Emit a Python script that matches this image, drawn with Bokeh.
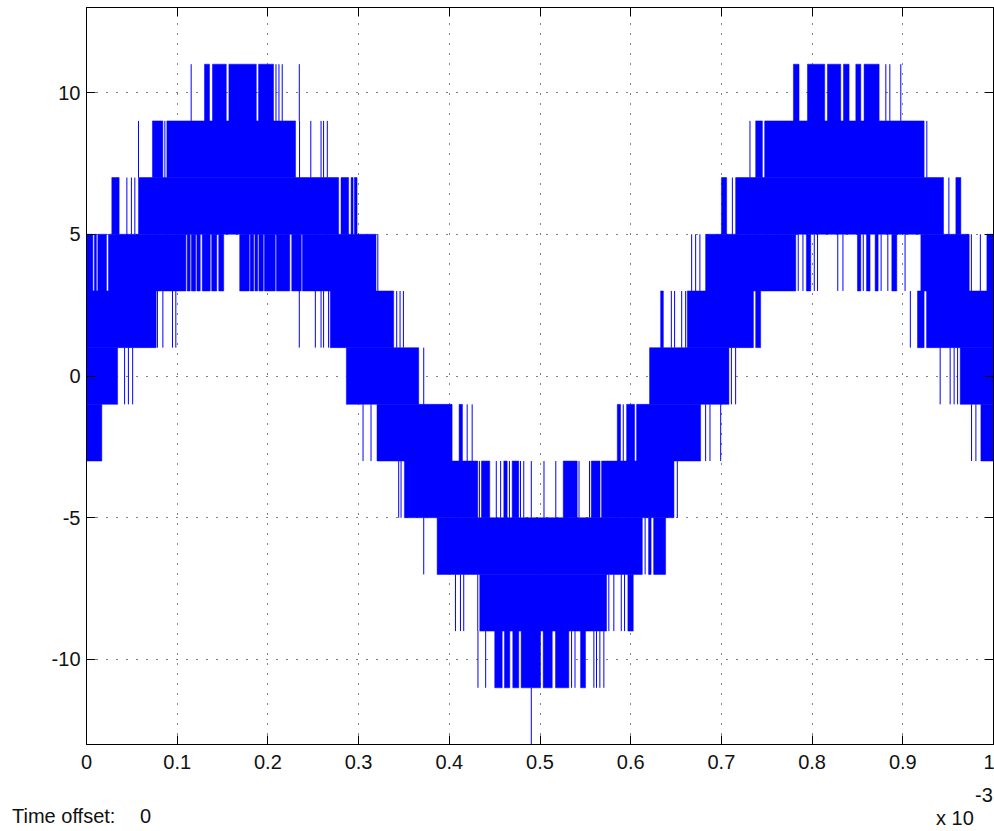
from bokeh.plotting import figure
from bokeh.layouts import column
from bokeh.models import (Range1d, FixedTicker, LinearAxis, Div,
                          CustomJSTickFormatter, ColumnDataSource)
from bokeh.embed import file_html
from bokeh.resources import INLINE

# Multilevel PWM scope trace, time in units of 1e-3 s.
# Each band lies between two adjacent output levels; "runs" are spans where the
# switching is so dense that the band is solid, "lines" are single switching pulses.
x_ticks = [0.0, 0.1, 0.2, 0.3, 0.4, 0.5, 0.6, 0.7, 0.8, 0.9, 1.0]
y_ticks = [-10, -5, 0, 5, 10]

band_9_11_runs = [(0.1301, 0.1356), (0.1389, 0.1541), (0.1570, 0.1872), (0.1897, 0.2062),
                  (0.7794, 0.7856), (0.7949, 0.8139), (0.8169, 0.8316), (0.8346, 0.8408),
                  (0.8482, 0.8537), (0.8573, 0.8739)]
band_9_11_lines = [0.1154, 0.2089, 0.2122, 0.2158, 0.2346, 0.8813, 0.8857, 0.8978]

band_7_9_runs = [(0.0727, 0.0842), (0.0886, 0.2305), (0.7378, 0.7452), (0.7477, 0.9235)]
band_7_9_lines = [0.0573, 0.0864, 0.2349, 0.2473, 0.2586, 0.2614, 0.2655, 0.7315, 0.9265]

band_5_7_runs = [(0.0279, 0.0360), (0.0573, 0.2780), (0.2806, 0.2890), (0.2917, 0.2939),
                 (0.2953, 0.2983), (0.7000, 0.7058), (0.7157, 0.9449), (0.9585, 0.9640)]
band_5_7_lines = [0.0445, 0.0495, 0.0533, 0.7121, 0.9508]

band_3_5_runs = [(0.0, 0.0070), (0.0087, 0.0109), (0.0125, 0.0220), (0.0242, 0.1096),
                 (0.1110, 0.1143), (0.1156, 0.1204), (0.1217, 0.1254), (0.1276, 0.1364),
                 (0.1380, 0.1436), (0.1458, 0.1513), (0.1689, 0.1794), (0.1805, 0.1844),
                 (0.1857, 0.1888), (0.1901, 0.1949), (0.1962, 0.2081), (0.2094, 0.2241),
                 (0.2263, 0.2368), (0.2381, 0.3192), (0.6826, 0.7820), (0.7937, 0.7985),
                 (0.8500, 0.8537), (0.8600, 0.8639), (0.8695, 0.8728), (0.8879, 0.8934),
                 (0.9199, 0.9732), (0.9927, 1.0)]
band_3_5_lines = [0.3212, 0.6672, 0.6716, 0.6763, 0.7847, 0.7899, 0.8024, 0.8060, 0.8283,
                  0.8340, 0.8564, 0.8761, 0.8835, 0.9025, 0.9756, 0.9855]

band_1_3_runs = [(0.0, 0.0768), (0.2688, 0.3387), (0.6330, 0.6360), (0.6624, 0.7353),
                 (0.7378, 0.7433), (0.9162, 0.9235), (0.9262, 1.0)]
band_1_3_lines = [0.0782, 0.0842, 0.0948, 0.0985, 0.2346, 0.2523, 0.2586, 0.2614, 0.2669,
                  0.3420, 0.3457, 0.3494, 0.6448, 0.6484, 0.6562, 0.6606, 0.9083]

band_m1_1_runs = [(0.0, 0.0343), (0.2865, 0.3663), (0.6208, 0.7083), (0.9633, 1.0)]
band_m1_1_lines = [0.0420, 0.0462, 0.0509, 0.3718, 0.7110, 0.7157, 0.9412, 0.9522,
                   0.9566, 0.9604]

band_m3_m1_runs = [(0.0, 0.0169), (0.3203, 0.4031), (0.4108, 0.4145), (0.5852, 0.5888),
                   (0.5955, 0.6043), (0.6065, 0.6771), (0.9861, 1.0)]
band_m3_m1_lines = [0.3049, 0.3137, 0.4197, 0.4252, 0.5918, 0.6826, 0.6874, 0.6992,
                    0.9758, 0.9806]

band_m5_m3_runs = [(0.3505, 0.4314), (0.4354, 0.4446), (0.4601, 0.4638), (0.4693, 0.4766),
                   (0.5256, 0.5410), (0.5565, 0.5662), (0.5679, 0.6477)]
band_m5_m3_lines = [0.3442, 0.3468, 0.4332, 0.4518, 0.4566, 0.4663, 0.4785, 0.4821,
                    0.4904, 0.5044, 0.5174, 0.5430, 0.5546, 0.6514]

band_m7_m5_runs = [(0.3866, 0.6128), (0.6197, 0.6225), (0.6253, 0.6385)]
band_m7_m5_lines = [0.3718, 0.6159]

band_m9_m7_runs = [(0.4336, 0.5734), (0.5969, 0.6028)]
band_m9_m7_lines = [0.4068, 0.4123, 0.4159, 0.4314, 0.5759, 0.5814, 0.5896, 0.5932]

band_m11_m9_runs = [(0.4501, 0.4583), (0.4608, 0.4667), (0.4700, 0.4766), (0.4792, 0.5006),
                    (0.5035, 0.5135), (0.5171, 0.5318), (0.5447, 0.5502)]
band_m11_m9_lines = [0.4316, 0.4401, 0.5348, 0.5386, 0.5594, 0.5623, 0.5660, 0.5704]

band_m13_m11_runs = []
band_m13_m11_lines = [0.4904]

footer_left = "Time offset:"
footer_offset_value = "0"
footer_scale = "x 10"
footer_exponent = "-3"

bands = [
    (9, 11, band_9_11_runs, band_9_11_lines),
    (7, 9, band_7_9_runs, band_7_9_lines),
    (5, 7, band_5_7_runs, band_5_7_lines),
    (3, 5, band_3_5_runs, band_3_5_lines),
    (1, 3, band_1_3_runs, band_1_3_lines),
    (-1, 1, band_m1_1_runs, band_m1_1_lines),
    (-3, -1, band_m3_m1_runs, band_m3_m1_lines),
    (-5, -3, band_m5_m3_runs, band_m5_m3_lines),
    (-7, -5, band_m7_m5_runs, band_m7_m5_lines),
    (-9, -7, band_m9_m7_runs, band_m9_m7_lines),
    (-11, -9, band_m11_m9_runs, band_m11_m9_lines),
    (-13, -11, band_m13_m11_runs, band_m13_m11_lines),
]

q = dict(left=[], right=[], bottom=[], top=[])
s = dict(x0=[], y0=[], x1=[], y1=[])
for lo, hi, runs, lines in bands:
    for a, b in runs:
        q["left"].append(a); q["right"].append(b)
        q["bottom"].append(lo); q["top"].append(hi)
    for t in lines:
        s["x0"].append(t); s["x1"].append(t)
        s["y0"].append(lo); s["y1"].append(hi)

FONT = "Liberation Sans"
BLUE = "#0000ff"
TXT = "#111111"

p = figure(width=994, height=783, x_range=Range1d(0, 1), y_range=Range1d(-13, 13),
           output_backend="svg", toolbar_location=None,
           min_border_left=86, min_border_right=1, min_border_top=7, min_border_bottom=39,
           background_fill_color="white", border_fill_color="white")
p.outline_line_color = "black"
p.outline_line_width = 1

p.quad(left="left", right="right", bottom="bottom", top="top",
       source=ColumnDataSource(q), fill_color=BLUE, line_color=BLUE, line_width=0.5)
p.segment(x0="x0", y0="y0", x1="x1", y1="y1", source=ColumnDataSource(s),
          line_color=BLUE, line_width=1)

xfmt = CustomJSTickFormatter(code="return tick.toFixed(1).replace(/\\.0$/, '');")
yfmt = CustomJSTickFormatter(code="return tick.toString();")
blank = CustomJSTickFormatter(code="return '';")

def style_axis(ax, ticks, fmt, standoff):
    ax.ticker = FixedTicker(ticks=ticks)
    ax.formatter = fmt
    ax.major_tick_in = 9
    ax.major_tick_out = 0
    ax.minor_tick_in = 0
    ax.minor_tick_out = 0
    ax.major_tick_line_color = "black"
    ax.axis_line_color = "black"
    ax.major_label_text_font = FONT
    ax.major_label_text_font_size = "20px"
    ax.major_label_text_color = TXT
    ax.major_label_standoff = standoff

style_axis(p.xaxis[0], x_ticks, xfmt, 10)
style_axis(p.yaxis[0], y_ticks, yfmt, 6)

top_axis = LinearAxis()
style_axis(top_axis, x_ticks, blank, 0)
p.add_layout(top_axis, "above")
right_axis = LinearAxis()
style_axis(right_axis, y_ticks, blank, 0)
p.add_layout(right_axis, "right")

for g, ticks in ((p.xgrid[0], x_ticks), (p.ygrid[0], y_ticks)):
    g.ticker = FixedTicker(ticks=ticks)
    g.grid_line_color = "black"
    g.grid_line_alpha = 1.0
    g.grid_line_width = 1
    g.grid_line_dash = "1 9"

# footer texts of the scope window, below the axes
span = '<span style="position:absolute;left:{}px;top:{}px;white-space:pre;">{}</span>'
footer_html = (
    '<div style="position:relative;width:994px;height:46px;margin:0;padding:0;'
    "font-family:'Liberation Sans',sans-serif;font-size:20px;line-height:20px;"
    'color:' + TXT + ';">'
    + span.format(12, 23, footer_left)
    + span.format(140, 23, footer_offset_value)
    + span.format(936, 25, footer_scale)
    + span.format(975, 2, footer_exponent)
    + '</div>'
)
footer = Div(text=footer_html, width=994, height=46, margin=0)

layout = column(p, footer, spacing=0)
open("out.html", "w").write(file_html(layout, INLINE))
